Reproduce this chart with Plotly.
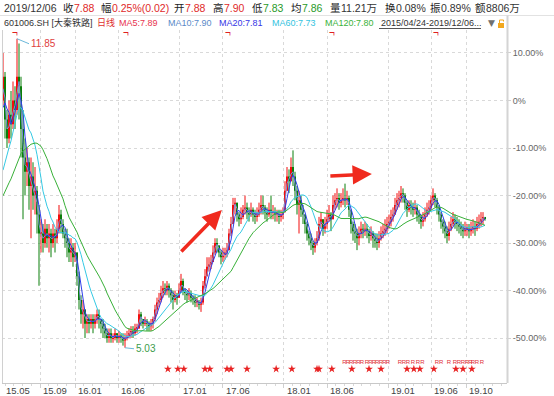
import pandas as pd
import plotly.graph_objects as go

# ---------------- data ----------------
BASE_PRICE = 10.49          # price that corresponds to 0 %
START_DATE = "2015-04-24"   # first weekly bar

# weekly bars, expressed in % versus BASE_PRICE
close_pct = [
    5, -4, -8, -3, -5, 0, -2, 5, 3, -6,
    -12, -15, -13, -18, -16, -20, -19, -24, -28, -28,
    -30, -27, -29, -28, -30, -28, -29, -27, -24, -26,
    -28, -29, -30, -32, -31, -33, -32, -37, -42, -45,
    -44, -47, -46, -47, -46, -47, -46, -45, -46, -47,
    -48, -49, -50, -49, -50, -50, -49, -50, -49.5, -50,
    -50.5, -50, -49.5, -49, -48.5, -49, -48, -48, -45, -46,
    -47, -46.5, -47, -47.5, -47, -46, -44, -42.5, -42, -40.5,
    -39.5, -40, -39, -40, -41, -42, -41, -41.5, -40, -38,
    -40, -40.5, -41, -40.5, -41.5, -42, -42.5, -42.5, -43, -42.5,
    -39, -37, -35, -34.5, -34, -32, -30, -30.5, -32, -33,
    -32.5, -32, -31.5, -28, -26, -22, -21.5, -24, -25, -24.5,
    -23, -22.5, -23.5, -24, -23, -24, -24.5, -24, -23, -22,
    -22.5, -23.5, -24, -23, -23.5, -23.5, -24, -24, -24.5, -24,
    -23.5, -19, -16, -17, -14, -16, -19, -22, -21, -23,
    -24, -26, -28, -29, -30, -31, -30, -29, -26, -25,
    -27, -26, -25, -24, -25, -22, -21, -20.5, -21.5, -21,
    -20.5, -21, -20.5, -23, -26, -27.5, -28, -29, -28, -27,
    -27.5, -27, -27.5, -28.5, -28, -29, -29.5, -30, -29, -28,
    -27.5, -27, -26, -25.5, -24.5, -24, -22, -21, -20.5, -19.5,
    -20, -21.5, -23, -22, -22.5, -23, -22.5, -24, -24.5, -25.5,
    -25, -24, -23, -22.5, -21, -20, -21, -22.5, -24, -25.5,
    -26.5, -27.5, -28.5, -27, -26, -25, -25.5, -26, -26.5, -27,
    -27.5, -27, -27, -27.5, -27, -26.5, -27, -26, -25.5, -25,
    -24.5, -24.88,
]
high_pct = [
    10, 6, -2, 0, 2, 4, 3, 13, 12, 5,
    -2, -8, -10, -12, -12, -13, -14, -18, -22, -25,
    -26, -25, -26, -26, -27, -26, -27, -25, -22, -23,
    -25, -27, -27, -29, -29, -30, -30, -32, -36, -41,
    -42, -44, -45, -45, -45, -45, -45, -44, -44, -46,
    -46, -47, -48, -48, -48, -49, -48, -49, -48.5, -49,
    -49, -49, -48.5, -48, -47.5, -47.5, -47, -47, -44, -44.5,
    -46, -45.5, -46, -46.5, -46, -45.5, -43, -41.5, -40.5, -39,
    -38, -38.5, -38, -38.5, -39.5, -40, -40, -40.5, -38.5, -36.5,
    -37.5, -39.5, -40, -39.5, -40, -41, -41, -41.5, -42, -41.5,
    -38, -35.5, -33, -33, -32.5, -30.5, -29, -29, -30.5, -31.5,
    -31, -31, -30, -27, -24.5, -20.5, -20.5, -22, -23.5, -22.5,
    -22, -20, -21.5, -22.5, -21.5, -22.5, -23, -22.5, -21.5, -20,
    -20, -22, -22.5, -21.5, -20, -22, -22.5, -23, -23, -23,
    -22.5, -17, -14, -14.5, -12, -10.5, -15, -18, -19, -20,
    -22, -24, -25.5, -27.5, -28, -29.5, -29, -27.5, -24.5, -23.5,
    -25, -24.5, -23, -22, -23.5, -20, -19.5, -18.5, -19.5, -19.5,
    -18.5, -17.5, -19, -20, -23, -25.5, -26, -27, -26.5, -25.5,
    -26, -25.5, -26, -27, -26.5, -27.5, -28, -28, -27.5, -26.5,
    -26, -25, -24.5, -24, -23, -22.5, -20.5, -19.5, -19, -18,
    -18.5, -19.5, -21, -21, -21, -21.5, -21, -22, -23, -24,
    -23.5, -22.5, -21.5, -21, -20, -18.5, -19.5, -20.5, -22, -23.5,
    -25, -25.5, -26.5, -25.5, -24.5, -23.5, -24, -24.5, -25, -25.5,
    -26, -25.5, -26, -26, -25.5, -25, -25.5, -24.5, -24, -23.5,
    -23.5, -24.5,
]
low_pct = [
    -1, -8, -10, -9, -8, -6, -6, -3, -4, -12,
    -25, -20, -18, -23, -29, -23, -24, -28, -39, -32,
    -32, -31, -31, -32, -33, -31, -32, -30, -28, -28,
    -29, -31, -33, -34, -34, -35, -34, -39, -44, -47,
    -48, -50, -49, -49, -48, -49, -48, -47, -48, -49,
    -50, -50, -51, -51, -51, -51, -50.5, -51, -51, -51,
    -51.6, -52.05, -50.5, -50, -50, -50, -49.5, -49, -48, -47.5,
    -48, -47.5, -48.5, -48.5, -48.5, -48, -46.5, -45, -43.5, -42.5,
    -41.5, -41, -41, -41.5, -42.5, -44, -42.5, -43, -41.5, -40.5,
    -41, -42, -42.5, -42, -42.5, -43, -43.5, -43.5, -44, -44.5,
    -43, -39.5, -37, -36, -35.5, -34, -32.5, -32, -33, -34.5,
    -34, -33.5, -33, -31, -28.5, -25.5, -24, -25.5, -26.5, -26,
    -25, -24, -25, -25.5, -24.5, -25.5, -26, -25.5, -24.5, -24,
    -24, -25, -25.5, -24.5, -25, -25, -25.5, -25.5, -26, -25.5,
    -25, -23.5, -19, -19.5, -17, -18, -21, -24, -28, -24.5,
    -26, -28, -29.5, -30.5, -31.5, -32.5, -32, -30.5, -29.5, -27,
    -28.5, -28, -27, -25.5, -27.5, -24, -23, -22.5, -23, -22.5,
    -22, -22.5, -22, -24.5, -28, -29.5, -30, -31.5, -30.5, -29,
    -29, -28.5, -29, -30, -29.5, -31, -31, -31.5, -31, -29.5,
    -29, -28.5, -28, -27, -26.5, -25.5, -24, -23, -22.5, -21.5,
    -21.5, -23, -24.5, -23.5, -24, -24.5, -24, -25.5, -26, -27,
    -26.5, -25.5, -24.5, -24, -23, -22, -22.5, -24, -25.5, -27,
    -28, -29, -30, -29.5, -27.5, -26.5, -27, -27.5, -28, -28.5,
    -29, -28.5, -28.5, -29, -28.5, -28, -28.5, -27.5, -27, -26.5,
    -26, -25.3,
]
# weekly closes before the visible window (only seed the moving averages)
hist_close_pct = [-30, -28, -27, -26, -25, -26, -27, -26, -25, -24, -25, -23,
                  -24, -25, -24, -23, -22, -23, -21, -20, -12, -8, -3, 0]

# moving averages: window in weekly bars (daily 10/20/60/120)
ma_names = ["MA10", "MA20", "MA60", "MA120"]
ma_windows = [2, 4, 12, 24]
ma_colors = ["#7D8FD8", "#2F3FEA", "#35C9E4", "#38B038"]

pct_ticks = [10, 0, -10, -20, -30, -40, -50]
pct_labels = ["10.00%", "0%", "-10.00%", "-20.00%", "-30.00%", "-40.00%", "-50.00%"]

month_ticks = ["2015-09-01", "2016-01-01", "2016-06-01", "2017-01-01", "2017-06-01",
               "2018-01-01", "2018-06-01", "2019-01-01", "2019-06-01", "2019-10-01"]
month_labels = ["15.09", "16.01", "16.06", "17.01", "17.06",
                "18.01", "18.06", "19.01", "19.06", "19.10"]
first_label = "15.05"

dividend_dates = ["2015-06-05", "2016-06-27", "2017-06-19", "2018-06-18", "2019-06-17"]
star_dates = ["2016-11-21", "2016-12-26", "2017-01-16", "2017-03-31", "2017-04-17",
              "2017-06-16", "2017-06-30", "2017-08-25", "2017-12-05", "2018-01-29",
              "2018-04-27", "2018-05-04", "2018-06-18", "2018-08-27", "2018-10-26",
              "2018-12-07", "2019-03-08", "2019-04-01", "2019-04-22", "2019-06-10",
              "2019-08-26", "2019-09-20", "2019-10-21"]
r_dates = ["2018-08-01", "2018-08-13", "2018-08-25", "2018-09-07", "2018-09-19",
           "2018-10-01", "2018-10-19", "2018-10-31", "2018-11-12", "2018-11-24",
           "2018-12-07", "2018-12-19", "2018-12-31", "2019-02-11", "2019-02-25",
           "2019-03-11", "2019-03-29", "2019-04-15", "2019-05-01", "2019-06-21",
           "2019-07-06", "2019-08-02", "2019-08-23", "2019-09-06", "2019-09-20",
           "2019-10-04", "2019-10-16", "2019-10-25", "2019-11-08", "2019-11-25"]

header1 = [  # (left px, text, colour)
    (2, "2019/12/06", "#333333"), (61, "收", "#222222"), (72, "7.88", "#E02A2A"),
    (99, "幅", "#222222"), (110, "0.25%(0.02)", "#E02A2A"), (172, "开", "#222222"),
    (183, "7.88", "#E02A2A"), (211, "高", "#222222"), (222, "7.90", "#E02A2A"),
    (250, "低", "#222222"), (261, "7.83", "#2A9A2A"), (289, "均", "#222222"),
    (300, "7.86", "#2A9A2A"), (328, "量", "#222222"), (339, "11.21万", "#333333"),
    (383, "换", "#222222"), (394, "0.08%", "#333333"), (428, "振", "#222222"),
    (439, "0.89%", "#333333"), (473, "额", "#222222"), (484, "8806万", "#333333"),
]
header2 = [
    (2, "601006.SH [大秦铁路]", "#333333"), (95, "日线", "#E03030"),
    (117, "MA5:7.89", "#E8344E"), (166, "MA10:7.90", "#5A8AC8"),
    (217, "MA20:7.81", "#3535E6"), (270, "MA60:7.73", "#33C3E0"),
    (323, "MA120:7.80", "#3AB23A"), (379, "2015/04/24-2019/12/06...", "#333333"),
]

# ---------------- figure ----------------
W, H = 554, 396
L, R, T, B = 2, 47, 30, 13
PW, PH = W - L - R, H - T - B
FONT = "Liberation Sans, Arial, Noto Sans CJK SC, sans-serif"
UP, DOWN = "#F20C0C", "#0B7F0B"
Y_RANGE = [-59.47, 14.84]
BODY_MS = 6 * 24 * 3600 * 1000   # candle body width (6 days of a 7-day slot)


def px(x):
    return (x - L) / PW


def py(y):
    return (H - B - y) / PH


def y_at(pixel_y):
    return Y_RANGE[1] - (pixel_y - T) / PH * (Y_RANGE[1] - Y_RANGE[0])


weeks = pd.date_range(START_DATE, periods=len(close_pct), freq="7D")
open_pct = [0.0] + close_pct[:-1]
high_b = [max(h, o, c) for h, o, c in zip(high_pct, open_pct, close_pct)]
low_b = [min(lo, o, c) for lo, o, c in zip(low_pct, open_pct, close_pct)]

fig = go.Figure()
for is_up, col in [(True, UP), (False, DOWN)]:
    idx = [i for i in range(len(close_pct)) if (close_pct[i] >= open_pct[i]) == is_up]
    # wicks
    wx, wy = [], []
    for i in idx:
        wx += [weeks[i], weeks[i], None]
        wy += [low_b[i], high_b[i], None]
    fig.add_trace(go.Scatter(x=wx, y=wy, mode="lines", line=dict(color=col, width=1),
                             hoverinfo="skip", showlegend=False))
    # bodies
    fig.add_trace(go.Bar(x=[weeks[i] for i in idx],
                         base=[min(open_pct[i], close_pct[i]) for i in idx],
                         y=[max(abs(close_pct[i] - open_pct[i]), 0.25) for i in idx],
                         width=BODY_MS, marker=dict(color=col, line=dict(width=0)),
                         hoverinfo="skip", showlegend=False))

series = pd.Series(hist_close_pct + close_pct, dtype=float)
n_hist = len(hist_close_pct)
for name, win, col in zip(ma_names, ma_windows, ma_colors):
    ma = series.rolling(win).mean().iloc[n_hist:].to_numpy()
    fig.add_trace(go.Scatter(x=weeks, y=ma, mode="lines", name=name,
                             line=dict(color=col, width=1), hoverinfo="skip",
                             showlegend=False))

# event marks
fig.add_trace(go.Scatter(x=pd.to_datetime(star_dates), y=[y_at(369)] * len(star_dates),
                         mode="markers", marker=dict(symbol="star", size=6, color="#E82222",
                                                     line=dict(width=0)),
                         hoverinfo="skip", showlegend=False))
fig.add_trace(go.Scatter(x=pd.to_datetime(r_dates), y=[y_at(362.5)] * len(r_dates),
                         mode="text", text=["R"] * len(r_dates),
                         textfont=dict(size=6, color="#E03038", family=FONT),
                         hoverinfo="skip", showlegend=False))
fig.add_trace(go.Scatter(x=pd.to_datetime(dividend_dates), y=[y_at(33.5)] * len(dividend_dates),
                         mode="text", text=["¬"] * len(dividend_dates),
                         textfont=dict(size=10, color="#E02020", family=FONT),
                         hoverinfo="skip", showlegend=False))

ann = []
# max / min labels
i_max = max(range(len(high_b)), key=lambda i: high_b[i])
i_min = min(range(len(low_b)), key=lambda i: low_b[i])
ann.append(dict(x=weeks[i_max], y=high_b[i_max], xref="x", yref="y",
                text=f"{BASE_PRICE * (1 + high_b[i_max] / 100):.2f}",
                showarrow=True, arrowhead=0, arrowwidth=1, arrowcolor="#6BB8DA",
                ax=12, ay=5, xanchor="left", yanchor="middle",
                font=dict(size=10, color="#E04040", family=FONT)))
ann.append(dict(x=weeks[i_min], y=low_b[i_min], xref="x", yref="y",
                text=f"{BASE_PRICE * (1 + low_b[i_min] / 100):.2f}",
                showarrow=True, arrowhead=0, arrowwidth=1, arrowcolor="#6BB8DA",
                ax=9, ay=1, xanchor="left", yanchor="middle",
                font=dict(size=10, color="#3C9C4C", family=FONT)))

# trend arrows
ann.append(dict(x=pd.Timestamp("2017-05-29"), y=y_at(210), xref="x", yref="y", text="",
                showarrow=True, arrowhead=2, arrowsize=1.1, arrowwidth=3.5,
                arrowcolor="#F02A1E", ax=-42, ay=43))
ann.append(dict(x=pd.Timestamp("2018-11-05"), y=y_at(174), xref="x", yref="y", text="",
                showarrow=True, arrowhead=2, arrowsize=1.1, arrowwidth=3.5,
                arrowcolor="#F02A1E", ax=-43, ay=2))

# x labels (left aligned at month boundaries)
for d, lab in [(START_DATE, first_label)] + list(zip(month_ticks, month_labels)):
    ann.append(dict(x=pd.Timestamp(d), y=py(390), xref="x", yref="paper", text=lab,
                    showarrow=False, xanchor="left", yanchor="middle", xshift=1,
                    font=dict(size=9.5, color="#444444", family=FONT)))

# header rows
for x0, txt, col in header1:
    ann.append(dict(x=px(x0), y=py(8), xref="paper", yref="paper", text=txt,
                    showarrow=False, xanchor="left", yanchor="middle",
                    font=dict(size=10.5, color=col, family=FONT)))
for x0, txt, col in header2:
    ann.append(dict(x=px(x0), y=py(23), xref="paper", yref="paper", text=txt,
                    showarrow=False, xanchor="left", yanchor="middle",
                    font=dict(size=9, color=col, family=FONT)))
ann.append(dict(x=px(486), y=py(23), xref="paper", yref="paper", text="▼",
                showarrow=False, xanchor="left", yanchor="middle",
                font=dict(size=9, color="#707070", family="DejaVu Sans")))

shapes = [
    # separator under first header row
    dict(type="line", xref="paper", yref="paper", x0=px(0), x1=px(554), y0=py(15.5), y1=py(15.5),
         line=dict(color="#E2E2E2", width=1)),
    # right axis frame line
    dict(type="line", xref="paper", yref="paper", x0=px(507.5), x1=px(507.5), y0=py(383), y1=py(15.5),
         line=dict(color="#D4D4D4", width=2)),
    # left frame line
    dict(type="line", xref="paper", yref="paper", x0=px(2.5), x1=px(2.5), y0=py(383), y1=py(30),
         line=dict(color="#D0D0D0", width=1)),
    # underline of the date range
    dict(type="line", xref="paper", yref="paper", x0=px(379), x1=px(481), y0=py(28.5), y1=py(28.5),
         line=dict(color="#555555", width=1)),
    # lock icon
    dict(type="rect", xref="paper", yref="paper", x0=px(498), x1=px(504), y0=py(28), y1=py(23),
         fillcolor="#F2A81E", line=dict(width=0)),
    dict(type="path", xref="paper", yref="paper",
         path=f"M {px(499.5)},{py(23)} L {px(499.5)},{py(20)} L {px(503.5)},{py(20)} L {px(503.5)},{py(21.5)}",
         line=dict(color="#F2A81E", width=1)),
]

fig.update_layout(
    width=W, height=H, margin=dict(l=L, r=R, t=T, b=B, autoexpand=False),
    paper_bgcolor="white", plot_bgcolor="white", showlegend=False,
    font=dict(family=FONT, size=9, color="#444444"),
    annotations=ann, shapes=shapes, barmode="overlay",
    xaxis=dict(type="date", range=["2015-04-20 12:00", "2020-02-21"],
               tickmode="array", tickvals=month_ticks, showticklabels=False,
               showgrid=True, gridcolor="#D9D9D9", griddash="dot", gridwidth=1,
               showline=True, linecolor="#C8C8C8", linewidth=1,
               ticks="outside", ticklen=4, tickcolor="#D0D0D0",
               minor=dict(tickmode="linear", tick0="2015-05-01", dtick="M1",
                          ticks="outside", ticklen=2, tickcolor="#D8D8D8", showgrid=False),
               zeroline=False, fixedrange=True),
    yaxis=dict(side="right", range=Y_RANGE, tickmode="array", tickvals=pct_ticks,
               ticktext=pct_labels, showgrid=True, gridcolor="#D9D9D9", griddash="dot",
               gridwidth=1, showline=False, ticks="outside", ticklen=3,
               tickcolor="#D0D0D0", tickfont=dict(size=9, color="#666666", family=FONT),
               zeroline=False, fixedrange=True),
)

fig.write_html("out.html", config={"displayModeBar": False},
               post_script="document.body.style.margin='0';document.body.style.padding='0';"
                           "document.body.style.overflow='hidden';")
